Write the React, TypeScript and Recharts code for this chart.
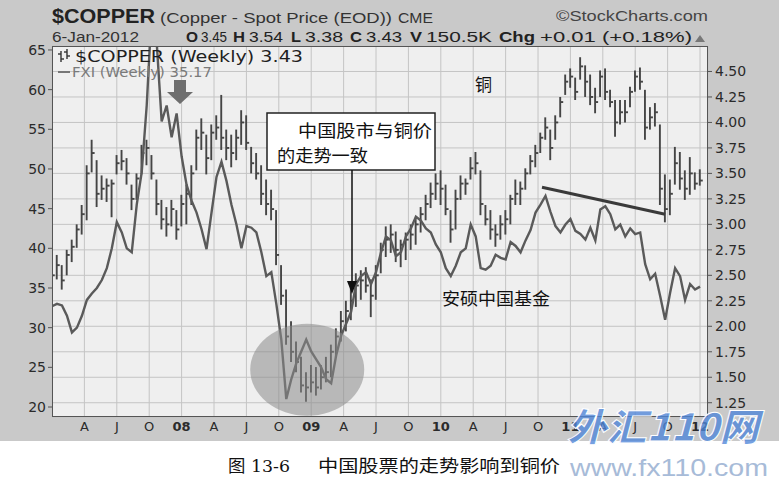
import React from 'react';
import {
  ComposedChart,
  Bar,
  Line,
  XAxis,
  YAxis,
  CartesianGrid,
  ReferenceLine,
  ReferenceDot,
} from 'recharts';

// biweekly samples, Jan 2007 -> 6 Jan 2012 (index 0..130)
const copperHigh = [
  2.65, 2.7, 2.6, 2.75, 2.85, 3.0, 3.19, 3.58, 3.83, 3.63,
  3.48, 3.45, 3.44, 3.68, 3.73, 3.65, 3.39, 3.5, 3.78, 3.83,
  3.68, 3.44, 3.24, 3.17, 3.24, 3.14, 3.29, 3.39, 3.58, 3.93,
  4.04, 3.88, 3.98, 4.07, 4.27, 3.93, 3.88, 3.93, 4.12, 4.07,
  3.76, 3.7, 3.58, 3.44, 3.34, 3.14, 2.6, 2.36, 2.05, 1.85,
  1.7, 1.55, 1.62, 1.6, 1.62, 1.7, 1.82, 1.98, 2.15, 2.25,
  2.38, 2.52, 2.55, 2.58, 2.46, 2.6, 2.82, 2.98, 3.0, 2.93,
  2.85, 2.92, 3.0, 3.06, 3.17, 3.29, 3.41, 3.5, 3.53, 3.39,
  3.14, 3.34, 3.48, 3.45, 3.66, 3.71, 3.53, 3.19, 3.14, 3.0,
  3.09, 3.14, 3.29, 3.44, 3.42, 3.55, 3.68, 3.78, 3.9, 4.05,
  3.93, 4.07, 4.25, 4.47, 4.53, 4.44, 4.64, 4.56, 4.47, 4.34,
  4.51, 4.53, 4.32, 4.22, 4.22, 4.22, 4.35, 4.51, 4.54, 4.32,
  4.15, 4.19, 3.98, 3.49, 3.44, 3.76, 3.71, 3.53, 3.66, 3.51,
  3.54,
];

const copperLow = [
  2.41, 2.46, 2.36, 2.5, 2.63, 2.77, 2.9, 3.04, 3.51, 3.17,
  3.24, 3.22, 3.07, 3.49, 3.53, 3.39, 3.14, 3.24, 3.49, 3.58,
  3.44, 3.09, 2.95, 2.88, 2.98, 2.85, 2.98, 3.0, 3.19, 3.53,
  3.73, 3.49, 3.63, 3.83, 3.73, 3.63, 3.56, 3.63, 3.78, 3.73,
  3.5, 3.44, 3.19, 3.09, 3.04, 2.6, 2.21, 1.82, 1.65, 1.55,
  1.35, 1.26, 1.35, 1.32, 1.38, 1.45, 1.5, 1.7, 1.85, 1.95,
  2.06, 2.19, 2.26, 2.33, 2.09, 2.26, 2.52, 2.68, 2.72, 2.63,
  2.58, 2.65, 2.75, 2.8, 2.92, 3.04, 3.16, 3.24, 3.19, 3.09,
  2.82, 2.95, 3.24, 3.29, 3.44, 3.49, 3.09, 2.99, 2.85, 2.78,
  2.85, 2.9, 3.0, 3.19, 3.19, 3.34, 3.49, 3.56, 3.7, 3.83,
  3.63, 3.83, 4.05, 4.27, 4.34, 4.22, 4.42, 4.25, 4.17, 4.09,
  4.25, 4.22, 4.15, 3.86, 3.98, 4.0, 4.15, 4.3, 4.32, 3.83,
  3.93, 3.96, 3.19, 3.02, 3.09, 3.39, 3.34, 3.24, 3.29, 3.34,
  3.38,
];

const copperClose = [
  2.5, 2.6, 2.45, 2.7, 2.78, 2.95, 3.1, 3.5, 3.7, 3.3,
  3.35, 3.38, 3.4, 3.6, 3.62, 3.5, 3.25, 3.45, 3.7, 3.75,
  3.5, 3.2, 3.05, 3.0, 3.15, 2.95, 3.2, 3.3, 3.5, 3.85,
  3.9, 3.65, 3.9, 3.95, 3.85, 3.75, 3.7, 3.85, 4.0, 3.8,
  3.6, 3.5, 3.3, 3.2, 3.15, 2.7, 2.3, 1.9, 1.75, 1.65,
  1.42, 1.4, 1.45, 1.4, 1.5, 1.55, 1.75, 1.9, 2.05, 2.15,
  2.25, 2.4, 2.45, 2.4, 2.3, 2.5, 2.75, 2.85, 2.9, 2.75,
  2.8, 2.85, 2.9, 3.0, 3.1, 3.2, 3.3, 3.4, 3.35, 3.15,
  2.95, 3.25, 3.4, 3.4, 3.55, 3.6, 3.2, 3.05, 2.95, 2.9,
  3.0, 3.05, 3.25, 3.3, 3.35, 3.5, 3.62, 3.7, 3.85, 3.95,
  3.75, 4.0, 4.2, 4.4, 4.45, 4.3, 4.55, 4.4, 4.25, 4.2,
  4.45, 4.3, 4.2, 4.0, 4.1, 4.1, 4.3, 4.45, 4.4, 3.95,
  4.05, 4.1, 3.35, 3.15, 3.3, 3.6, 3.45, 3.35, 3.5, 3.4,
  3.43,
];

const fxiClose = [
  32.7, 33.0, 32.8, 31.5, 29.4, 30.0, 31.5, 33.5, 34.3, 35.0,
  36.0, 37.5, 40.0, 43.3, 42.0, 40.0, 39.5, 45.5, 49.6, 58.0,
  70.0, 66.0, 56.0, 58.0, 54.0, 57.0, 51.6, 48.0, 46.0, 44.5,
  42.4, 39.9, 44.5, 49.0, 50.9, 48.5, 45.5, 43.0, 40.0, 42.8,
  42.6, 42.0, 39.5, 36.5, 37.0, 33.0, 28.5, 21.0, 23.5, 25.5,
  27.0, 28.5, 27.0, 26.0, 25.0, 23.5, 23.0, 26.5, 29.0, 30.5,
  32.0, 35.5, 36.5, 37.0, 35.5, 37.0, 39.5, 41.5, 41.0, 39.0,
  39.5, 41.5, 42.5, 44.0, 43.5, 42.5, 42.0, 40.5, 39.5, 37.5,
  36.5, 37.8, 39.5, 40.0, 43.0, 41.5, 37.5, 37.3, 37.8, 39.2,
  38.8, 38.6, 40.8, 40.3, 39.5, 41.0, 42.3, 44.5, 45.5, 46.6,
  44.6, 42.8, 42.0, 43.0, 43.7, 42.2, 41.8, 41.1, 42.6, 41.0,
  44.9, 45.3, 44.3, 42.4, 43.0, 41.5, 42.5, 41.8, 42.0, 38.0,
  36.1, 36.8, 34.0, 31.0, 34.4, 37.5, 36.5, 33.5, 35.5, 34.8,
  35.17,
];

// quarter ticks on the biweekly index scale
const quarterTicks = [
  6.5, 13, 19.5, 26, 32.5, 39, 45.5, 52, 58.5, 65,
  71.5, 78, 84.5, 91, 97.5, 104, 110.5, 117, 123.5, 130,
];
const quarterLabels = [
  'A', 'J', 'O', '08', 'A', 'J', 'O', '09', 'A', 'J',
  'O', '10', 'A', 'J', 'O', '11', 'A', 'J', 'O', '12',
];

const fxiTicks = [20, 25, 30, 35, 40, 45, 50, 55, 60, 65];
const copperTicks = [
  1.25, 1.5, 1.75, 2.0, 2.25, 2.5, 2.75, 3.0, 3.25, 3.5, 3.75, 4.0, 4.25, 4.5,
];

// annotations (data coordinates)
const ellipseCenter = { i: 51.2, fxi: 24.7 };
const trendLine = [
  { x: 98.3, y: 47.7 },
  { x: 123, y: 44.3 },
];

const data = fxiClose.map((v, i) => ({
  i,
  fxi: v,
  high: copperHigh[i],
  low: copperLow[i],
  close: copperClose[i],
}));

const SANS = "'DejaVu Sans', 'Liberation Sans', sans-serif";
const ARIAL = "'Liberation Sans', Arial, sans-serif";
const CJK = "'Noto Sans CJK SC', sans-serif";

const HlcBar = (props: any) => {
  const { x, y, width, height, payload } = props;
  if (payload == null || y == null || height == null) return null;
  const top = Math.min(y, y + height);
  const bot = Math.max(y, y + height);
  const cx = x + width / 2;
  const span = payload.high - payload.low;
  const yc = span > 0 ? top + ((payload.high - payload.close) / span) * (bot - top) : top;
  return (
    <g stroke="#454545" strokeWidth={1.9}>
      <line x1={cx} y1={top} x2={cx} y2={bot} />
      <line x1={cx} y1={yc} x2={cx + 3} y2={yc} />
    </g>
  );
};

const XTick = (props: any) => {
  const { x, y, payload } = props;
  const idx = quarterTicks.indexOf(payload.value);
  const label = idx >= 0 ? quarterLabels[idx] : '';
  const isYear = /\d/.test(label);
  return (
    <text
      x={x}
      y={y + 6}
      textAnchor="middle"
      fontFamily={SANS}
      fontSize={13}
      fontWeight={isYear ? 700 : 400}
      fill="#2b2b2b"
    >
      {label}
    </text>
  );
};

const EllipseShape = (p: any) => (
  <ellipse cx={p.cx} cy={p.cy} rx={57} ry={46} fill="#8a8a8a" fillOpacity={0.55} />
);

export default function App() {
  return (
    <div
      style={{
        position: 'absolute',
        left: 0,
        top: 0,
        width: 779,
        height: 481,
        background: '#ffffff',
        overflow: 'hidden',
        fontFamily: SANS,
      }}
    >
      <div style={{ position: 'absolute', left: 0, top: 0, width: 779, height: 441, background: '#c9c9c9' }} />
      <div style={{ position: 'absolute', left: 0, top: 0 }}>
        <ComposedChart
          width={779}
          height={481}
          data={data}
          margin={{ top: 46, right: 0, bottom: 0, left: 0 }}
        >
          <CartesianGrid
            yAxisId="right"
            stroke="#c4c4c4"
            strokeWidth={1}
            fill="#efefef"
            fillOpacity={1}
          />
          <XAxis
            dataKey="i"
            type="number"
            domain={[0, 131.6]}
            ticks={quarterTicks}
            tick={<XTick />}
            tickLine={false}
            axisLine={false}
            height={64}
            interval={0}
            allowDataOverflow
          />
          <YAxis
            yAxisId="left"
            orientation="left"
            width={52}
            domain={[18.74, 65.5]}
            ticks={fxiTicks}
            allowDataOverflow
            axisLine={false}
            tickLine={{ stroke: '#555' }}
            tickSize={4}
            tickMargin={2}
            tick={{ fontFamily: SANS, fontSize: 14, fill: '#2b2b2b' }}
            interval={0}
          />
          <YAxis
            yAxisId="right"
            orientation="right"
            width={71}
            domain={[1.11, 4.75]}
            ticks={copperTicks}
            allowDataOverflow
            axisLine={false}
            tickLine={{ stroke: '#555' }}
            tickSize={4}
            tickMargin={3}
            tickFormatter={(v: number) => v.toFixed(2)}
            tick={{ fontFamily: SANS, fontSize: 14, fill: '#2b2b2b', textAnchor: 'start' }}
            interval={0}
          />
          <ReferenceDot
            yAxisId="left"
            x={ellipseCenter.i}
            y={ellipseCenter.fxi}
            r={0}
            shape={EllipseShape}
            ifOverflow="visible"
          />
          <Bar
            yAxisId="right"
            dataKey={(d: any) => [d.low, d.high]}
            barSize={5}
            shape={<HlcBar />}
            isAnimationActive={false}
          />
          <Line
            yAxisId="left"
            dataKey="fxi"
            type="linear"
            stroke="#5a5a5a"
            strokeWidth={2.4}
            dot={false}
            isAnimationActive={false}
          />
          <ReferenceLine
            yAxisId="left"
            segment={trendLine}
            stroke="#3a3a3a"
            strokeWidth={3}
            ifOverflow="visible"
          />
        </ComposedChart>
      </div>

      <svg
        width={779}
        height={481}
        style={{ position: 'absolute', left: 0, top: 0, pointerEvents: 'none' }}
      >
        {/* plot frame */}
        <rect x={52.5} y={46.5} width={655} height={370} fill="none" stroke="#555" strokeWidth={1} />

        {/* header */}
        <text x={52} y={23} fontFamily={ARIAL} fontWeight={700} fontSize={21} fill="#222" textLength={103} lengthAdjust="spacingAndGlyphs">
          $COPPER
        </text>
        <text x={160} y={23} fontFamily={ARIAL} fontSize={15} fill="#333" textLength={232} lengthAdjust="spacingAndGlyphs">
          (Copper - Spot Price (EOD))
        </text>
        <text x={398} y={23} fontFamily={ARIAL} fontSize={14} fill="#333" textLength={35} lengthAdjust="spacingAndGlyphs">
          CME
        </text>
        <text x={556} y={21} fontFamily={ARIAL} fontSize={15} fill="#444" textLength={152} lengthAdjust="spacingAndGlyphs">
          ©StockCharts.com
        </text>

        <text x={52} y={42} fontFamily={ARIAL} fontSize={14} fill="#333" textLength={87} lengthAdjust="spacingAndGlyphs">
          6-Jan-2012
        </text>
        <g fontFamily={ARIAL} fontSize={14} fill="#222">
          <text x={186} y={42} fontWeight={700} textLength={12} lengthAdjust="spacingAndGlyphs">O</text>
          <text x={201} y={42} textLength={26} lengthAdjust="spacingAndGlyphs">3.45</text>
          <text x={233} y={42} fontWeight={700} textLength={12} lengthAdjust="spacingAndGlyphs">H</text>
          <text x={249} y={42} textLength={34} lengthAdjust="spacingAndGlyphs">3.54</text>
          <text x={291} y={42} fontWeight={700} textLength={10} lengthAdjust="spacingAndGlyphs">L</text>
          <text x={305} y={42} textLength={38} lengthAdjust="spacingAndGlyphs">3.38</text>
          <text x={350} y={42} fontWeight={700} textLength={12} lengthAdjust="spacingAndGlyphs">C</text>
          <text x={366} y={42} textLength={36} lengthAdjust="spacingAndGlyphs">3.43</text>
          <text x={410} y={42} fontWeight={700} textLength={12} lengthAdjust="spacingAndGlyphs">V</text>
          <text x={426} y={42} textLength={66} lengthAdjust="spacingAndGlyphs">150.5K</text>
          <text x={499} y={42} fontWeight={700} textLength={36} lengthAdjust="spacingAndGlyphs">Chg</text>
          <text x={540} y={42} textLength={152} lengthAdjust="spacingAndGlyphs">+0.01 (+0.18%)</text>
        </g>
        <polygon points="695,42 705,42 700,35" fill="#777" />

        {/* legend */}
        <g stroke="#333" strokeWidth={1.4}>
          <line x1={61} y1={51} x2={61} y2={62} />
          <line x1={58} y1={54} x2={61} y2={54} />
          <line x1={61} y1={59} x2={64} y2={59} />
          <line x1={67} y1={49} x2={67} y2={59} />
          <line x1={64} y1={52} x2={67} y2={52} />
          <line x1={67} y1={56} x2={70} y2={56} />
        </g>
        <text x={75} y={62} fontFamily={SANS} fontSize={15} fill="#1f1f1f" textLength={228} lengthAdjust="spacingAndGlyphs">
          $COPPER (Weekly) 3.43
        </text>
        <line x1={58} y1={72} x2={70} y2={72} stroke="#777" strokeWidth={2} />
        <text x={72} y={77} fontFamily={SANS} fontSize={14} fill="#7a7a7a" textLength={140} lengthAdjust="spacingAndGlyphs">
          FXI (Weekly) 35.17
        </text>

        {/* gray down arrow */}
        <polygon points="174,80 186,80 186,92 193,92 180,104 167,92 174,92" fill="#6e6e6e" />

        {/* callout box */}
        <rect x={267} y={113} width={168} height={57} fill="#ffffff" stroke="#222" strokeWidth={1.5} />
        <text x={298} y={137} fontFamily={CJK} fontSize={17} fill="#111" textLength={134} lengthAdjust="spacingAndGlyphs">
          中国股市与铜价
        </text>
        <text x={277} y={162} fontFamily={CJK} fontSize={17} fill="#111" textLength={91} lengthAdjust="spacingAndGlyphs">
          的走势一致
        </text>
        <line x1={352} y1={170} x2={352} y2={284} stroke="#111" strokeWidth={1.5} />
        <polygon points="347,281 357,281 352,294" fill="#111" />

        <text x={475} y={91} fontFamily={CJK} fontSize={17} fill="#111">
          铜
        </text>
        <text x={442} y={305} fontFamily={CJK} fontSize={17} fill="#111" textLength={108} lengthAdjust="spacingAndGlyphs">
          安硕中国基金
        </text>

        {/* watermark logo */}
        <text x={567} y={441} fontFamily={CJK} fontWeight={900} fontStyle="italic" fontSize={38} fill="#4f86d9" fillOpacity={0.78} stroke="#ffffff" strokeWidth={1} textLength={192} lengthAdjust="spacingAndGlyphs">
          外汇110网
        </text>

        {/* caption */}
        <text x={228} y={472} fontFamily={"'DejaVu Serif', 'Noto Sans CJK SC', serif"} fontSize={17} fill="#111" textLength={62} lengthAdjust="spacingAndGlyphs">
          图 13-6
        </text>
        <text x={318} y={472} fontFamily={CJK} fontSize={17} fill="#111" textLength={242} lengthAdjust="spacingAndGlyphs">
          中国股票的走势影响到铜价
        </text>
        <text x={570} y={476} fontFamily={ARIAL} fontSize={24} fill="#a7bbd8" textLength={198} lengthAdjust="spacingAndGlyphs">
          www.fx110.com
        </text>
      </svg>
    </div>
  );
}
